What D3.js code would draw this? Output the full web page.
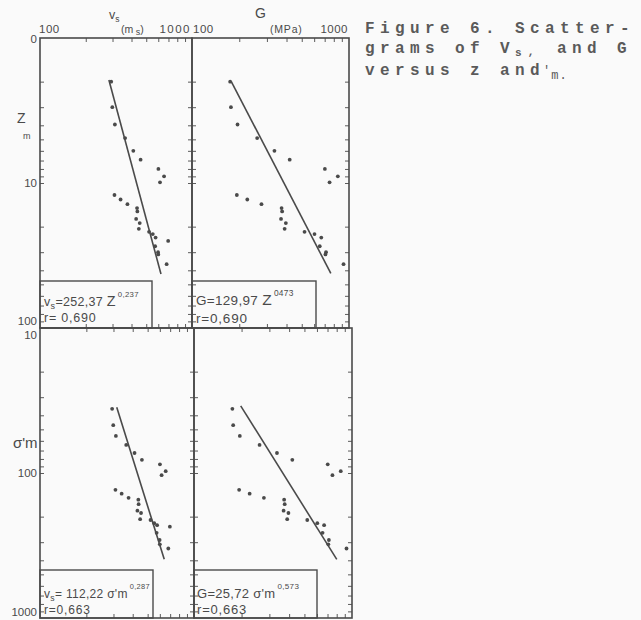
<!DOCTYPE html>
<html><head><meta charset="utf-8">
<script src="https://cdn.jsdelivr.net/npm/d3@7"></script>
<style>
html,body{margin:0;padding:0;background:#fafafa;}
svg{display:block;}
</style></head><body>
<svg id="c" width="641" height="620"></svg>
<script>
// ---- data (25 samples) ----
const zDepth   = [2.0, 3.0, 3.95, 4.9, 6.0, 6.9, 8.0, 9.0, 9.9, 12.1, 13.0, 14.0, 14.9, 15.7, 17.7, 18.9, 20.7, 21.7, 22.5, 23.8, 25.1, 27.3, 30.0, 31.1, 36.3];
const sigmaM   = [36.1, 46.8, 55.5, 64.0, 72.8, 81.1, 87.1, 97.2, 103.5, 130.7, 138.8, 148.4, 152.7, 164, 182, 188.8, 208.1, 211, 221.9, 228.9, 234.6, 258.5, 289.8, 310.6, 331.7];
const vsValues = [294, 299, 311, 363, 411, 459, 601, 655, 616, 309, 339, 376, 435, 437, 429, 453, 447, 522, 552, 576, 697, 572, 598, 600, 681];
const gValues  = [175, 177, 195, 260, 335, 419, 702, 849, 752, 193, 225, 277, 372, 375, 369, 396, 389, 521, 603, 666, null, 651, 714, 708, 923];

// regression line end points [y-variable, x-variable]
const fitVsZ   = [[1.95, 284], [42.4, 625]];
const fitGZ    = [[2.0, 178], [42.0, 766]];
const fitVsSig = [[35.2, 315], [394, 641]];
const fitGSig  = [[34.4, 197.5], [394, 801]];

// tick values and labels
const minorX   = [200, 300, 400, 500, 600, 700, 800, 900];
const minorZ   = [2, 3, 4, 5, 6, 7, 8, 9, 10, 20, 30, 40, 50, 60, 70, 80, 90];
const minorSig = [20, 30, 40, 50, 60, 70, 80, 90, 100, 200, 300, 400, 500, 600, 700, 800, 900];
const xTickText = ["100", "1000"];
const zTickVals = [1, 10, 100];
const zTickText = ["0", "10", "100"];
const sigTickVals = [10, 100, 1000];
const sigTickText = ["10", "100", "1000"];

// equation text
const eqTL = ["v", "s", "=252,37 ", "Z", "0,237", "r= 0,690"];
const eqTR = ["G", "", "=129,97  ", "Z", "0473", "r=0,690"];
const eqBL = ["v", "s", "= 112,22 ", "σ'm", "0,287", "r=0,663"];
const eqBR = ["G", "", "=25,72 ", "σ'm", "0,573", "r=0,663"];

const ink = "#4a4a4a";
const sans = "'Liberation Sans', Arial, sans-serif";
const svg = d3.select("#c");

// scales
const yZ   = d3.scaleLog().domain([1, 100]).range([38, 328]);
const ySig = d3.scaleLog().domain([10, 1000]).range([328, 618]);
const xVsT = d3.scaleLog().domain([100, 1000]).range([40, 192]);
const xGT  = d3.scaleLog().domain([100, 1000]).range([192, 349]);
const xVsB = d3.scaleLog().domain([100, 1000]).range([40, 194]);
const xGB  = d3.scaleLog().domain([100, 1000]).range([194, 352]);

const panels = [
  {x: xVsT, y: yZ,   xs: vsValues, ys: zDepth, fit: fitVsZ,  minorY: minorZ,   eq: eqTL, box: [152, 281], tx: 44, b1: 306, b2: 322, fs: 12.5},
  {x: xGT,  y: yZ,   xs: gValues,  ys: zDepth, fit: fitGZ,   minorY: minorZ,   eq: eqTR, box: [316, 281], tx: 196, b1: 305, b2: 323, fs: 13.5},
  {x: xVsB, y: ySig, xs: vsValues, ys: sigmaM, fit: fitVsSig, minorY: minorSig, eq: eqBL, box: [153, 570], tx: 44, b1: 598, b2: 614, fs: 12},
  {x: xGB,  y: ySig, xs: gValues,  ys: sigmaM, fit: fitGSig,  minorY: minorSig, eq: eqBR, box: [317, 570], tx: 197, b1: 598, b2: 614, fs: 13}
];

panels.forEach(p => {
  const [x0, x1] = p.x.range();
  const [y0, y1] = p.y.range();
  const g = svg.append("g");

  // ticks on all four sides, pointing inward
  const ax = [
    [d3.axisBottom(p.x).tickValues(minorX), `translate(0,${y0})`],
    [d3.axisTop(p.x).tickValues(minorX), `translate(0,${y1})`],
    [d3.axisRight(p.y).tickValues(p.minorY), `translate(${x0},0)`],
    [d3.axisLeft(p.y).tickValues(p.minorY), `translate(${x1},0)`]
  ];
  ax.forEach(([a, t]) => {
    const ag = g.append("g").attr("transform", t)
      .call(a.tickSize(4).tickFormat(""));
    ag.select(".domain").remove();
    ag.selectAll("line").attr("stroke", ink).attr("stroke-width", 0.9);
  });

  // border
  g.append("rect").attr("x", x0).attr("y", y0)
    .attr("width", x1 - x0).attr("height", y1 - y0)
    .attr("fill", "none").attr("stroke", ink).attr("stroke-width", 1.6);

  // regression line
  const line = d3.line().x(d => p.x(d[1])).y(d => p.y(d[0]));
  g.append("path").attr("d", line(p.fit))
    .attr("fill", "none").attr("stroke", ink).attr("stroke-width", 1.6);

  // points
  const pts = p.xs.map((v, i) => [p.ys[i], v]).filter(d => d[1] != null);
  g.selectAll("circle.pt").data(pts).enter().append("circle")
    .attr("class", "pt")
    .attr("cx", d => p.x(d[1])).attr("cy", d => p.y(d[0]))
    .attr("r", 1.9).attr("fill", ink);

  // equation box
  g.append("rect").attr("x", x0).attr("y", p.box[1])
    .attr("width", p.box[0] - x0).attr("height", y1 - p.box[1])
    .attr("fill", "none").attr("stroke", ink).attr("stroke-width", 1.4);

  const t = g.append("text").attr("x", p.tx).attr("y", p.b1)
    .attr("font-family", sans).attr("font-size", p.fs).attr("fill", ink)
    .attr("letter-spacing", 0.3);
  t.append("tspan").text(p.eq[0]);
  if (p.eq[1]) t.append("tspan").attr("font-size", p.fs * 0.72).attr("dy", 3).text(p.eq[1]);
  t.append("tspan").attr("dy", p.eq[1] ? -3 : 0).text(p.eq[2]);
  const big = p.eq[3] === "Z";
  t.append("tspan").attr("font-size", big ? p.fs * 1.15 : p.fs).text(p.eq[3]);
  t.append("tspan").attr("font-size", p.fs * 0.62).attr("dy", -9).attr("dx", 2).text(p.eq[4]);
  g.append("text").attr("x", p.tx).attr("y", p.b2)
    .attr("font-family", sans).attr("font-size", p.fs).attr("fill", ink)
    .attr("letter-spacing", 0.8).text(p.eq[5]);
});

// ---- axis labels ----
const lab = (x, y, txt, fs, anchor) => svg.append("text").attr("x", x).attr("y", y)
  .attr("font-family", sans).attr("font-size", fs).attr("fill", ink)
  .attr("text-anchor", anchor || "start").text(txt);

// top x labels
lab(xVsT(100) - 1, 33, xTickText[0], 11.5).attr("letter-spacing", 0.5);
lab(xVsT(1000) - 1, 33, xTickText[1], 11.5, "end").attr("letter-spacing", 1.5);
lab(xGT(100) + 1, 33, xTickText[0], 11.5).attr("letter-spacing", 0.5);
lab(xGT(1000) - 1, 33, xTickText[1], 11.5, "end").attr("letter-spacing", 0.5);

// x titles
const vt = lab(109, 19, "v", 12.5);
vt.append("tspan").attr("font-size", 8.5).attr("dy", 3).text("s");
const mu = lab(121, 33, "(m", 10.5);
mu.append("tspan").attr("font-size", 9).attr("dy", 2).text(" s");
mu.append("tspan").attr("dy", -2).text(")");
lab(255, 18, "G", 14);
lab(270, 33, "(MPa)", 10.5).attr("letter-spacing", 0.8);

// left y tick labels
zTickVals.forEach((v, i) => {
  lab(37, yZ(v) + (i === 0 ? 5 : i === 2 ? -3 : 4), zTickText[i], 11.5, "end");
});
sigTickVals.forEach((v, i) => {
  lab(37, ySig(v) + (i === 0 ? 11 : i === 2 ? -2 : 4), sigTickText[i], 11.5, "end");
});

// y titles
lab(17, 123, "Z", 14);
lab(23, 139, "m", 9);
lab(13, 448, "σ'm", 15);

// ---- caption ----
const mono = "'Liberation Mono', 'Courier New', monospace";
const cap = (x, y, txt) => svg.append("text").attr("x", x).attr("y", y)
  .attr("font-family", mono).attr("font-size", 16).attr("fill", "#5a5a5a")
  .attr("font-weight", "bold").attr("letter-spacing", 5.4).text(txt);
cap(365, 33, "Figure 6. Scatter-");
const l2 = cap(365, 53, "grams of V");
l2.append("tspan").attr("font-size", 11).attr("letter-spacing", 0).attr("dy", 3).text("s");
l2.append("tspan").attr("font-size", 11).attr("letter-spacing", 0).attr("dx", 6).attr("dy", -1).text(",");
l2.append("tspan").attr("x", 557).attr("dy", -2).text("and G");
const l3 = cap(365, 75, "versus z and");
l3.append("tspan").attr("x", 543).attr("dy", -1).attr("font-size", 12)
  .attr("font-weight", "normal").attr("letter-spacing", 0).text("'");
l3.append("tspan").attr("dx", 1).attr("dy", 5).attr("font-size", 12)
  .attr("font-weight", "normal").attr("letter-spacing", 1).text("m.");
</script>
</body></html>
